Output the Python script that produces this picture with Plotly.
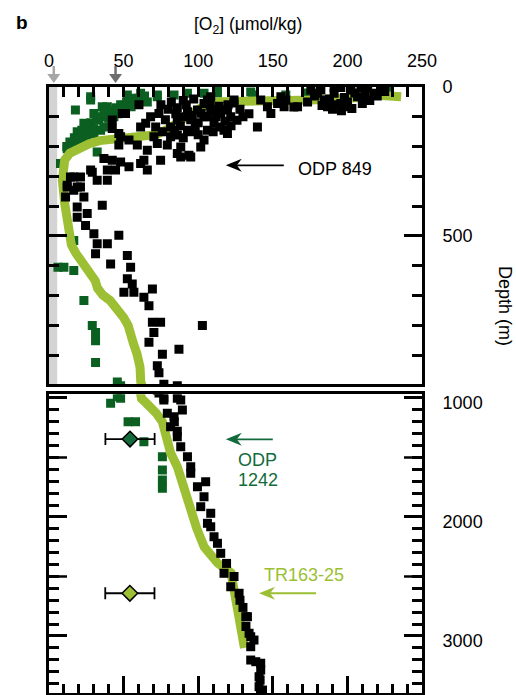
import plotly.graph_objects as go

# ---------------- data ----------------
x_tick_vals = [0, 50, 100, 150, 200, 250]
upper_depth_ticks = [0, 500]
lower_depth_ticks = [1000, 2000, 3000]
lower_half_ticks = [1500, 2500]

# TR163-25 profile (light green)
tr163_o2 = [236, 228, 218, 205, 190, 176, 160, 140, 122, 110,
            100, 90, 80, 72, 62, 50, 42, 34, 27, 20,
            14, 10.5, 9.5, 9, 10.5, 12, 13.5, 15, 18, 21,
            25, 28, 31, 32.5, 36, 41, 46, 50, 53, 55,
            56.5, 59, 61, 61.5, 62, 65, 68, 72, 76, 79,
            81.5, 86, 90, 95, 99, 104, 113, 122, 124, 126,
            128.5, 131]
tr163_depth = [33, 28, 27, 36, 42, 44, 45, 46, 48, 50,
               75, 110, 140, 160, 166, 169, 173, 180, 190, 203,
               222, 245, 275, 313, 390, 448, 500, 530, 558, 580,
               600, 622, 650, 675, 698, 717, 745, 774, 800, 825,
               860, 896, 940, 990, 1005, 1040, 1073, 1130, 1200, 1353,
               1462, 1577, 1748, 1916, 2095, 2252, 2387, 2470, 2588, 2756,
               2924, 3100]

# ODP 849 (black squares): (O2, depth)
odp849 = [
    (222.5, 2), (213.6, 2), (209.1, 2), (202.3, 10), (195.6, 2), (191.1, 2), (182.2, 10), (175.5, 10),
    (191.1, 21), (180.0, 21), (218.0, 21), (206.8, 33), (198, 35), (188, 40), (178, 30), (184.4, 44),
    (212, 28), (215, 45), (205, 20), (220, 30), (225, 15), (195.6, 55), (200, 50), (210, 55), (192, 60),
    (183, 62), (186.7, 66), (200.1, 66), (203, 72), (190, 75), (196, 80), (173.3, 50),
    (155.4, 33), (158.7, 44), (153.2, 55), (157.6, 66), (164.1, 67), (166.6, 66), (141.9, 44),
    (146.4, 66), (148.7, 89), (139.7, 134),
    (124.0, 44), (124.0, 54), (106.2, 44), (108.4, 33), (103.9, 55), (108.4, 77), (119.6, 77),
    (115.1, 89), (106.2, 100), (110.6, 122), (117.3, 145), (101.7, 201),
    (75, 60), (80, 75), (85, 90), (90, 100), (95, 110), (100, 120), (98, 135), (95, 150), (90, 170),
    (100, 160), (110, 150), (112, 100), (118, 115), (122, 130), (108, 60), (114, 65), (96, 95),
    (88, 130), (84, 145), (78, 110), (76, 150), (102, 88), (120, 60), (128, 75), (130, 100),
    (134, 90), (126, 112), (92, 60), (86, 70), (97, 40), (90, 45), (82, 50),
    (60.3, 60), (49.1, 89), (51.3, 89), (42.4, 111), (42.4, 139), (48.0, 167), (46.8, 156), (46.8, 195),
    (53.6, 178), (59.2, 195), (61.4, 134), (64.8, 122), (68.1, 100), (73.7, 89), (71.5, 134), (70.3, 167),
    (72.6, 190), (65.9, 212), (63.6, 246), (61.4, 257), (65.9, 279), (74.8, 246), (81.5, 134), (81.5, 167),
    (79.3, 195), (86.0, 111), (86.0, 161), (88.3, 201), (92.8, 145), (92.8, 83), (99.5, 77), (103.9, 100),
    (106.2, 145), (103.9, 178), (88.3, 235), (95.0, 235), (112.9, 77), (115.1, 134), (121.8, 100),
    (119.6, 156), (86.0, 223), (93.8, 229),
    (36.8, 240), (42.4, 246), (48.0, 252), (53.6, 268), (39.1, 279), (44.6, 279), (27.9, 279), (29.0, 286),
    (21.1, 302), (14.4, 302), (16.6, 302), (32.3, 313), (39.1, 313), (12.2, 330), (12.2, 336), (18.9, 336),
    (21.1, 336), (16.6, 347), (11.1, 369), (23.4, 369), (35.7, 397), (18.9, 403), (25.6, 425), (18.9, 437),
    (24.5, 465), (30.1, 493), (46.8, 498), (32.3, 526), (39.1, 526), (31.2, 560), (52.5, 566), (41.3, 594),
    (54.7, 605), (52.5, 644), (55.8, 661), (50.2, 689), (56.9, 689), (69.3, 678), (63.6, 706), (67.0, 734),
    (69.3, 790), (74.8, 790), (102.8, 801), (70.3, 824), (67.0, 857), (87.1, 880), (76.0, 897), (72.6, 936),
    (73.7, 959), (77.0, 998), (86.0, 1003),
    (77.0, 1017), (88.3, 1017), (89.4, 1101), (79.3, 1129), (83.8, 1157), (84, 1200), (81.5, 1241),
    (86, 1280), (86.0, 1325), (88.3, 1409), (92.8, 1493), (95.0, 1577), (95.0, 1633), (105.0, 1703),
    (99.5, 1745), (103.9, 1829), (101.7, 1913), (108.4, 1969), (106.2, 2053), (108.4, 2082), (110.6, 2166),
    (112.9, 2221), (115.1, 2305), (119, 2390), (117.3, 2473), (124, 2500), (121.8, 2586), (127.4, 2641),
    (128, 2700), (130, 2760), (131.9, 2838), (133.0, 2838), (132, 2920), (134.1, 2977), (135.2, 3006),
    (137.4, 3034), (135.2, 3090), (135.2, 3202), (138.6, 3216), (141.9, 3229), (141.9, 3286),
    (140.8, 3342), (141.5, 3370), (140.8, 3426), (143.1, 3454),
]

# ODP 1242 (dark green squares): (O2, depth)
odp1242 = [
    (27.9, 33), (27.9, 44), (17.7, 77), (36.8, 72), (35.7, 66), (39.1, 66), (30.1, 89), (33.4, 111),
    (23.4, 122), (18.9, 150), (26.7, 150), (30.1, 156), (36.8, 134), (34.6, 145), (43.5, 100), (50.2, 61),
    (56.9, 38), (52.5, 27), (61.4, 21), (65.9, 50), (72.6, 27), (72.6, 33), (83.8, 27), (92.8, 21),
    (103.9, 21), (112.9, 20), (112.9, 10), (135.2, 17), (136.6, 27), (154.0, 50), (158.7, 27),
    (173.5, 20), (227.2, 3),
    (12, 200), (14, 185), (17, 170), (20, 160), (22, 145), (26, 135), (28, 120), (32, 110), (35, 100),
    (38, 90), (42, 80), (45, 70), (48, 60), (52, 50), (56, 45), (60, 38), (64, 30), (24, 170), (30, 140),
    (40, 105), (46, 90), (50, 78), (55, 66), (60, 55), (16, 190), (19, 175),
    (25.6, 173), (19.9, 190), (12.2, 201), (12.2, 207), (32.3, 218), (7.7, 257), (16.6, 515), (6, 605),
    (10, 605), (16.6, 616), (23.4, 717), (29.0, 801), (31.2, 824), (31.2, 852), (31.2, 925), (45.8, 990),
    (48.0, 1003), (41.3, 1045), (53, 1199), (58, 1199), (63.6, 1367), (76.0, 1493), (76.0, 1605),
    (76.0, 1689), (76.0, 1759),
]

# estimates with error bars
est_o2 = [54.3, 54.2]
est_o2_err = [16.5, 16.5]
est_depth = [1345, 2641]

# top markers (arrows) positions in O2 units
top_arrow_o2 = [3.2, 44.6]

# label arrows: (tip O2, tip depth, length px, panel)
label_arrows = [(118.5, 263, 58, "upper"), (118.5, 1347, 47, "lower"), (140.8, 2641, 57, "lower")]

BLACK = "#000000"
DKGREEN = "#0B5F20"
DKGREEN_T = "#136B3C"
LTGREEN = "#9CBF33"
FONT = "Liberation Sans, Arial, sans-serif"

PLOT_W = 373.0
PX_PER_O2 = PLOT_W / 250.0
PX_PER_M = {"upper": 297.3 / 1000.0, "lower": 298.7 / (3479 - 969)}

fig = go.Figure()

for xa, ya in [("x", "y"), ("x2", "y2")]:
    fig.add_trace(go.Scatter(
        x=[p[0] for p in odp1242], y=[p[1] for p in odp1242], xaxis=xa, yaxis=ya,
        mode="markers", marker=dict(symbol="square", size=9, color=DKGREEN),
        showlegend=False, hoverinfo="skip"))
    fig.add_trace(go.Scatter(
        x=tr163_o2, y=tr163_depth, xaxis=xa, yaxis=ya,
        mode="lines", line=dict(color=LTGREEN, width=9),
        showlegend=False, hoverinfo="skip"))
    fig.add_trace(go.Scatter(
        x=[p[0] for p in odp849], y=[p[1] for p in odp849], xaxis=xa, yaxis=ya,
        mode="markers", marker=dict(symbol="square", size=9, color=BLACK),
        showlegend=False, hoverinfo="skip"))

est_colors = [DKGREEN_T, LTGREEN]
for i in range(2):
    fig.add_trace(go.Scatter(
        x=[est_o2[i]], y=[est_depth[i]], xaxis="x2", yaxis="y2", mode="markers",
        error_x=dict(type="data", array=[est_o2_err[i]], color=BLACK, thickness=1.8, width=6),
        marker=dict(symbol="diamond", size=12, color=est_colors[i], line=dict(color=BLACK, width=1.5)),
        showlegend=False, hoverinfo="skip"))

tickfont = dict(family=FONT, size=18, color=BLACK)
common_axis = dict(showline=True, linecolor=BLACK, linewidth=3, showgrid=False, zeroline=False,
                   tickcolor=BLACK, tickwidth=2.5, tickfont=tickfont)

upper_dom = [0.5094, 1.0]
lower_dom = [0.0, 0.4929]

fig.update_layout(
    width=516, height=695,
    margin=dict(l=49, r=94, t=87, b=2),
    paper_bgcolor="white", plot_bgcolor="white",
    font=dict(family=FONT, size=18, color=BLACK),
    xaxis=dict(domain=[0, 1], anchor="y", range=[0, 250], side="top",
               tickvals=x_tick_vals, ticks="inside", ticklen=10, mirror=True,
               ticklabelstandoff=10,
               minor=dict(dtick=10, tick0=0, ticks="inside", ticklen=10, tickwidth=2.5, tickcolor=BLACK),
               **common_axis),
    yaxis=dict(domain=upper_dom, anchor="x", range=[998, 0], side="right",
               tickvals=upper_depth_ticks, ticks="inside", ticklen=18,
               mirror="ticks", ticklabelstandoff=14,
               minor=dict(dtick=100, tick0=0, ticks="inside", ticklen=10, tickwidth=2.5, tickcolor=BLACK),
               **common_axis),
    xaxis2=dict(domain=[0, 1], anchor="y2", range=[0, 250], side="bottom",
                tickvals=x_tick_vals, showticklabels=False, ticks="inside", ticklen=17, mirror=True,
                minor=dict(dtick=10, tick0=0, ticks="inside", ticklen=9, tickwidth=2.5, tickcolor=BLACK),
                **common_axis),
    yaxis2=dict(domain=lower_dom, anchor="x2", range=[3479, 969], side="right",
                tickvals=lower_depth_ticks, ticks="inside", ticklen=18,
                mirror="ticks", ticklabelstandoff=14, ticklabelshift=-5,
                minor=dict(dtick=100, tick0=0, ticks="inside", ticklen=10, tickwidth=2.5, tickcolor=BLACK),
                **common_axis),
)

shapes = [
    dict(type="rect", xref="x", yref="y", x0=0, x1=5.5, y0=0, y1=998,
         fillcolor="#D3D3D3", line=dict(width=0), layer="below"),
]
for d in lower_half_ticks:
    for x0, x1 in [(0, 18 / PLOT_W), (1 - 18 / PLOT_W, 1)]:
        shapes.append(dict(type="line", xref="paper", yref="y2", x0=x0, x1=x1, y0=d, y1=d,
                           line=dict(color=BLACK, width=2.5)))

arrow_cols = ["#A6A6A6", "#6E6E6E"]
for a, c in zip(top_arrow_o2, arrow_cols):
    xp = a * PX_PER_O2 / PLOT_W
    hw = 6.5 / PLOT_W
    shapes.append(dict(type="path", xref="paper", yref="paper",
                       path=f"M {xp-hw},1.0215 L {xp+hw},1.0215 L {xp},1.0066 Z",
                       fillcolor=c, line=dict(width=0)))
    shapes.append(dict(type="line", xref="paper", yref="paper", x0=xp, x1=xp, y0=1.0347, y1=1.02,
                       line=dict(color=c, width=2.5)))

arrow_colors = [BLACK, DKGREEN_T, LTGREEN]
for (tx, ty, L, panel), col in zip(label_arrows, arrow_colors):
    xr, yr = ("x", "y") if panel == "upper" else ("x2", "y2")
    kx = 1.0 / PX_PER_O2
    ky = 1.0 / PX_PER_M[panel]
    shapes.append(dict(type="line", xref=xr, yref=yr, x0=tx + 10 * kx, x1=tx + L * kx, y0=ty, y1=ty,
                       line=dict(color=col, width=1.8)))
    shapes.append(dict(type="path", xref=xr, yref=yr,
                       path=(f"M {tx},{ty} L {tx + 16 * kx},{ty - 6.5 * ky} L {tx + 11 * kx},{ty} "
                             f"L {tx + 16 * kx},{ty + 6.5 * ky} Z"),
                       fillcolor=col, line=dict(width=0)))
fig.update_layout(shapes=shapes)

ann = []
ann.append(dict(x=192, y=274, xref="x", yref="y", text="ODP 849", showarrow=False,
                xanchor="center", yanchor="middle", font=dict(family=FONT, size=18, color=BLACK)))
ann.append(dict(x=125.5, y=1521, xref="x2", yref="y2", text="ODP", showarrow=False, xanchor="left",
                yanchor="middle", font=dict(family=FONT, size=18, color=DKGREEN_T)))
ann.append(dict(x=125.5, y=1689, xref="x2", yref="y2", text="1242", showarrow=False, xanchor="left",
                yanchor="middle", font=dict(family=FONT, size=18, color=DKGREEN_T)))
ann.append(dict(x=171, y=2487, xref="x2", yref="y2", text="TR163-25", showarrow=False,
                xanchor="center", yanchor="middle", font=dict(family=FONT, size=18, color=LTGREEN)))
ann.append(dict(x=(248 - 49) / PLOT_W, y=1.1023, xref="paper", yref="paper",
                text="[O<sub>2</sub>] (μmol/kg)", xanchor="center", yanchor="middle",
                showarrow=False, font=dict(family=FONT, size=17.5, color=BLACK)))
ann.append(dict(x=(22 - 49) / PLOT_W, y=1.1066, xref="paper", yref="paper", text="<b>b</b>",
                xanchor="center", yanchor="middle",
                showarrow=False, font=dict(family=FONT, size=19, color=BLACK)))
ann.append(dict(x=1.2225, y=0.6386, xref="paper", yref="paper", text="Depth (m)", textangle=90,
                xanchor="center", yanchor="middle",
                showarrow=False, font=dict(family=FONT, size=18, color=BLACK)))
fig.update_layout(annotations=ann)

fig.write_html("out.html", config={"displayModeBar": False},
               post_script="document.body.style.margin='0px';")
